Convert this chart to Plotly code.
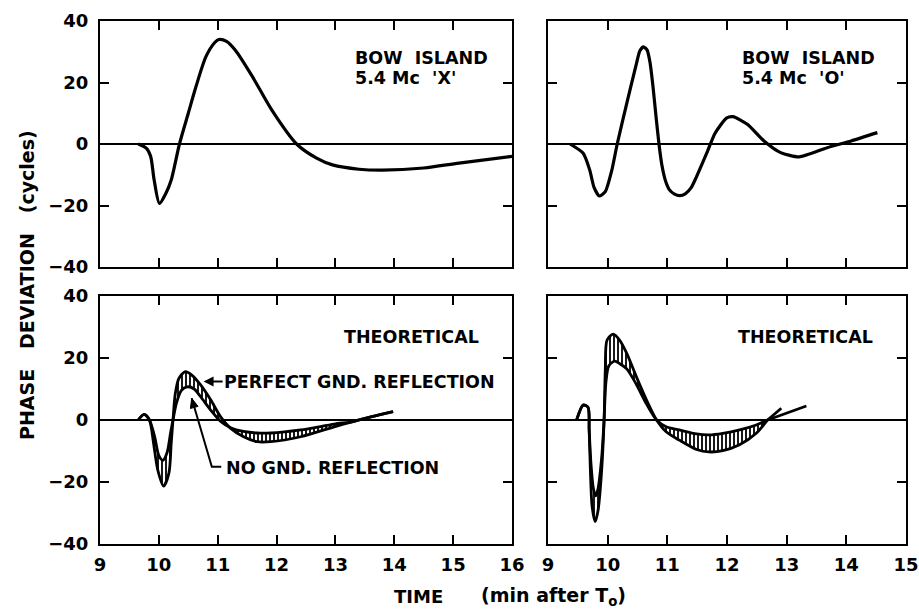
import plotly.graph_objects as go

# ---------------- data ----------------
# Top-left: BOW ISLAND 5.4 Mc 'X'
x_obs_X = [9.65, 9.79, 9.86, 9.92, 10.01, 10.12, 10.21, 10.35, 10.5, 10.63, 10.8, 10.95,
           11.02, 11.15, 11.3, 11.59, 11.92, 12.34, 12.68, 12.95, 13.4, 13.8, 14.5, 15.1, 16.0]
y_obs_X = [0, -1.4, -4, -11.7, -19.3, -16, -11.7, 0, 10, 18.6, 28.4, 33,
           34, 33.4, 30.5, 21.9, 11, 0, -4.6, -6.8, -8.2, -8.5, -7.8, -6.2, -4]

# Top-right: BOW ISLAND 5.4 Mc 'O'
x_obs_O = [9.37, 9.59, 9.7, 9.77, 9.86, 9.96, 10.07, 10.16, 10.33, 10.48, 10.54, 10.6, 10.66,
           10.71, 10.76, 10.81, 10.86, 10.91, 10.97, 11.04, 11.12, 11.21, 11.3, 11.4, 11.49,
           11.66, 11.8, 11.99, 12.1, 12.34, 12.62, 12.9, 13.21, 13.68, 14.08, 14.52]
y_obs_O = [0, -3, -8.5, -14, -16.9, -15.5, -8.5, 0, 14, 26, 30.3, 31.6, 30.6,
           26.5, 18.6, 9, 0, -7, -12, -15, -16.3, -16.8, -16.2, -14.2, -10.6,
           -3, 3.5, 8.4, 8.9, 6.4, 1, -2.8, -4.2, -1.2, 1, 3.7]

# Bottom-left: theoretical, X mode
x_thX_perfect = [9.65, 9.75, 9.84, 9.91, 9.98, 10.08, 10.17, 10.21, 10.24, 10.28, 10.34, 10.45,
                 10.56, 10.71, 10.88, 11.05, 11.22, 11.44, 11.67, 11.9, 12.41, 12.98, 13.3, 13.6, 13.98]
y_thX_perfect = [0, 1.8, 0, -7.5, -16, -21.3, -17.2, -7.5, 0, 8.6, 13.4, 15.6,
                 14.5, 11.3, 6.5, 1, -2.7, -5.4, -7, -7, -5.4, -2.2, -0.5, 1, 2.7]
x_thX_noground = [9.65, 9.75, 9.84, 9.93, 10.0, 10.07, 10.14, 10.2, 10.24, 10.3, 10.38, 10.48,
                  10.6, 10.71, 10.88, 11.05, 11.22, 11.44, 11.67, 11.9, 12.41, 12.98, 13.3, 13.6, 13.98]
y_thX_noground = [0, 1.8, 0, -5.5, -11.5, -13, -10.5, -4, 0, 5.5, 9.5, 10.7,
                  10, 7.5, 3.2, -0.5, -2.5, -3.7, -4.2, -4.2, -3.2, -1.3, -0.5, 1, 2.7]

# Bottom-right: theoretical, O mode
x_thO_perfect = [9.48, 9.59, 9.67, 9.69, 9.71, 9.74, 9.79, 9.84, 9.9, 9.94, 9.96, 9.99, 10.09,
                 10.2, 10.32, 10.48, 10.65, 10.82, 10.98, 11.2, 11.49, 11.7, 11.93, 12.21, 12.49, 12.68]
y_thO_perfect = [0, 4.8, 4.1, -3.2, -16, -28, -32.8, -29, -16, 0, 16, 25.8, 27.7,
                 25.8, 21.5, 14, 6.5, 0, -3.8, -6.5, -9.5, -10.3, -9.9, -8, -4.3, 0]
x_thO_noground = [9.48, 9.59, 9.67, 9.69, 9.72, 9.76, 9.8, 9.84, 9.9, 9.94, 9.97, 10.02, 10.12,
                  10.2, 10.32, 10.48, 10.65, 10.82, 10.98, 11.2, 11.49, 11.7, 11.93, 12.21, 12.49, 12.68]
y_thO_noground = [0, 4.8, 4.1, -3.2, -14, -22, -24.5, -22, -12, 0, 12, 17.5, 19,
                  18.2, 16.5, 11.5, 5.2, 0, -2.2, -3.2, -4.5, -4.8, -4.3, -3.2, -1.6, 0]
x_thO_perfect_tail = [12.68, 12.91]
y_thO_perfect_tail = [0, 3.8]
x_thO_noground_tail = [12.68, 13.33]
y_thO_noground_tail = [0, 4.5]

x_ticks_left = [9, 10, 11, 12, 13, 14, 15, 16]
x_ticks_right = [9, 10, 11, 12, 13, 14, 15]
y_ticks = [-40, -20, 0, 20, 40]

# ---------------- figure ----------------
W, H = 919, 610
FONT = "DejaVu Sans"


def fx(p):
    return p / W


def fy(p):
    return 1 - p / H


fig = go.Figure()

LW = 3.2
BW = 2.8
hatch = dict(shape="|", fgcolor="black", bgcolor="white", size=4, solidity=0.45)


def line(x, y, xa, ya, width=LW, smoothing=0.8):
    fig.add_trace(go.Scatter(x=x, y=y, xaxis=xa, yaxis=ya, mode="lines",
                             line=dict(color="black", width=width, shape="spline", smoothing=smoothing),
                             showlegend=False, hoverinfo="skip"))


def band(x1, y1, x2, y2, xa, ya):
    fig.add_trace(go.Scatter(x=x2, y=y2, xaxis=xa, yaxis=ya, mode="lines",
                             line=dict(color="black", width=BW, shape="spline", smoothing=0.8),
                             showlegend=False, hoverinfo="skip"))
    fig.add_trace(go.Scatter(x=x1, y=y1, xaxis=xa, yaxis=ya, mode="lines", fill="tonexty",
                             fillpattern=hatch, fillcolor="white",
                             line=dict(color="black", width=BW, shape="spline", smoothing=0.8),
                             showlegend=False, hoverinfo="skip"))


line(x_obs_X, y_obs_X, "x", "y")
line(x_obs_O, y_obs_O, "x2", "y2", smoothing=0.6)
band(x_thX_perfect, y_thX_perfect, x_thX_noground, y_thX_noground, "x3", "y3")
band(x_thO_perfect, y_thO_perfect, x_thO_noground, y_thO_noground, "x4", "y4")
line(x_thO_perfect_tail, y_thO_perfect_tail, "x4", "y4", BW)
line(x_thO_noground_tail, y_thO_noground_tail, "x4", "y4", BW)

left_dom = [fx(100), fx(512)]
right_dom = [fx(548), fx(906)]
top_dom = [fy(267), fy(21)]
bot_dom = [fy(544), fy(296)]

axis_common = dict(showline=True, linecolor="black", linewidth=2, mirror="allticks",
                   ticks="inside", ticklen=9, tickwidth=2, tickcolor="black",
                   showgrid=False, automargin=False,
                   tickfont=dict(family=FONT, size=18, color="black", weight="bold"))


def xax(dom, anchor, rng, vals, labels):
    d = dict(axis_common)
    d.update(domain=dom, anchor=anchor, range=rng, tickvals=vals, zeroline=False,
             showticklabels=labels, ticklabelstandoff=3)
    return d


def yax(dom, anchor, labels):
    d = dict(axis_common)
    d.update(domain=dom, anchor=anchor, range=[-40, 40], tickvals=y_ticks,
             zeroline=True, zerolinecolor="black", zerolinewidth=1.6,
             showticklabels=labels, ticklabelstandoff=6)
    return d


fig.update_layout(
    template="none",
    width=W, height=H, margin=dict(l=0, r=0, t=0, b=0, autoexpand=False),
    paper_bgcolor="white", plot_bgcolor="white",
    xaxis=xax(left_dom, "y", [9, 16], x_ticks_left, False),
    yaxis=yax(top_dom, "x", True),
    xaxis2=xax(right_dom, "y2", [9, 15], x_ticks_right, False),
    yaxis2=yax(top_dom, "x2", False),
    xaxis3=xax(left_dom, "y3", [9, 16], x_ticks_left, True),
    yaxis3=yax(bot_dom, "x3", True),
    xaxis4=xax(right_dom, "y4", [9, 15], x_ticks_right, True),
    yaxis4=yax(bot_dom, "x4", False),
    showlegend=False,
)

tf = dict(family=FONT, size=17.5, color="black", weight="bold")
ann = []


def text(t, x, y, xanchor="left", yanchor="middle", size=17.5, angle=0):
    ann.append(dict(text=t, x=fx(x), y=fy(y), xref="paper", yref="paper", showarrow=False,
                    xanchor=xanchor, yanchor=yanchor, textangle=angle,
                    font=dict(family=FONT, size=size, color="black", weight="bold")))


text("BOW  ISLAND", 353, 58)
text("5.4 Mc  'X'", 353, 78)
text("BOW  ISLAND", 740, 58)
text("5.4 Mc  'O'", 740, 78)
text("THEORETICAL", 342, 337)
text("THEORETICAL", 736, 337)
text("NO GND. REFLECTION", 224, 468)
text("TIME", 418, 596, xanchor="center", size=18)
text("(min after T<sub>o</sub>)", 553, 596, xanchor="center", size=19)
text("PHASE   DEVIATION   (cycles)", 27, 285, xanchor="center", angle=-90, size=19)

# PERFECT GND. REFLECTION with arrow to the upper curve
ann.append(dict(text="PERFECT GND. REFLECTION", x=10.76, y=12.4, xref="x3", yref="y3",
                showarrow=True, arrowhead=2, arrowsize=1, arrowwidth=2, arrowcolor="black",
                ax=156, ay=0, xanchor="center", font=tf))

# NO GND. REFLECTION leader (elbow line with a small arrowhead at the curve)
fig.add_shape(type="path", xref="x3", yref="y3",
              path="M 10.558 7.0 L 10.90 -15.1 L 11.06 -15.1",
              line=dict(color="black", width=2))
fig.add_shape(type="path", xref="x3", yref="y3",
              path="M 10.558 7.0 L 10.665 4.4 L 10.536 3.7 Z",
              line=dict(color="black", width=1), fillcolor="black")

fig.update_layout(annotations=ann)
fig.write_html("out.html")
